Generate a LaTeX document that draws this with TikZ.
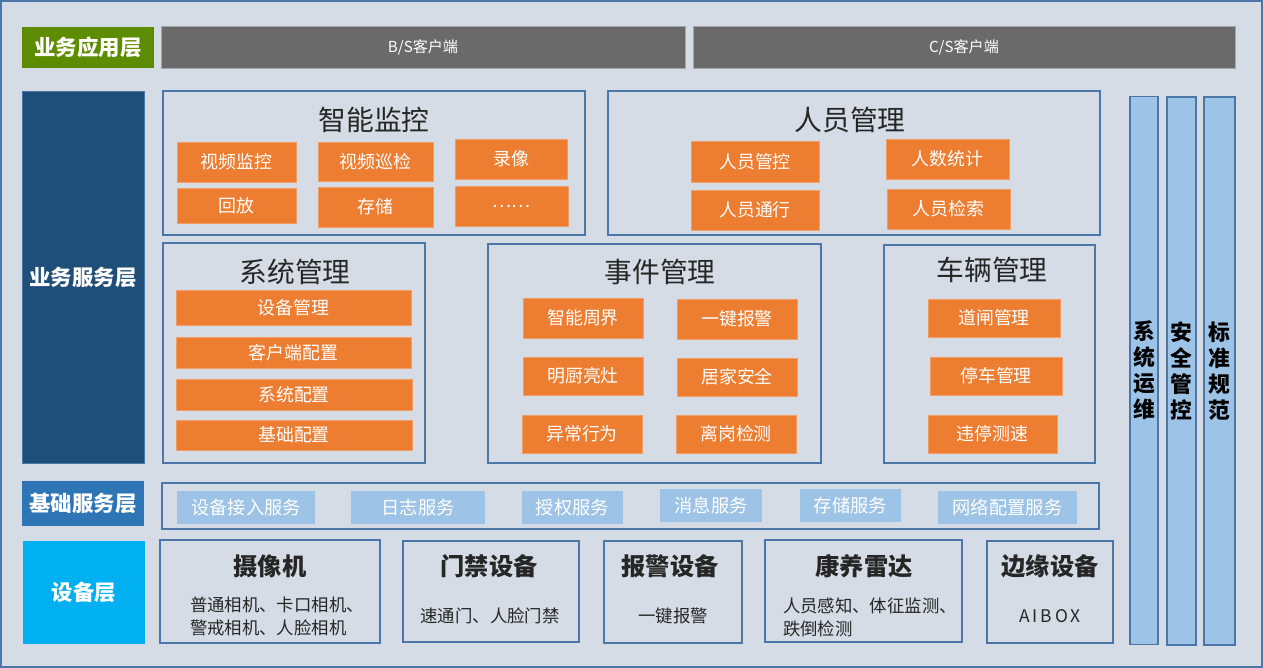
\documentclass[tikz,border=0pt]{standalone}
\usepackage{fontspec}
\setmainfont{Noto Sans CJK SC}
\definecolor{bgcol}{HTML}{D6DCE5}
\definecolor{framecol}{HTML}{4A76A8}
\definecolor{orangecol}{HTML}{ED7D31}
\definecolor{appcol}{HTML}{5E8C00}
\definecolor{svccol}{HTML}{1F4E79}
\definecolor{basecol}{HTML}{2E75B6}
\definecolor{devcol}{HTML}{00B0F0}
\definecolor{lightcol}{HTML}{9DC3E6}
\definecolor{graycol}{HTML}{6A6A6A}
\definecolor{textcol}{HTML}{262626}

\begin{document}
\begin{tikzpicture}
        [x=0.02cm,y=-0.02cm,
        every node/.style={inner sep=0pt,outer sep=0pt},
        sz/.style 2 args={minimum width=#1*0.02cm,minimum height=#2*0.02cm},
        layer/.style={text=white,font=\fontsize{12.2}{14}\selectfont\bfseries},
        client/.style={fill=graycol,draw=gray!70,line width=0.5pt,text=white,
          font=\fontsize{8.6}{10}\selectfont},
        grp/.style={draw=framecol,line width=0.9pt},
        gtitle/.style={text=textcol,font=\fontsize{15.8}{18}\selectfont},
        obox/.style={fill=orangecol,draw=orangecol!75!white,line width=0.4pt,text=white,
          font=\fontsize{10.2}{12}\selectfont},
        sbox/.style={fill=lightcol,text=white,font=\fontsize{10.4}{12}\selectfont},
        vbar/.style={fill=lightcol,draw=framecol,line width=0.8pt,text=black,align=center,
          font=\fontsize{12.4}{14.8}\selectfont\bfseries},
        dtitle/.style={text=textcol,font=\fontsize{13.8}{16}\selectfont\bfseries},
        ddesc/.style={text=textcol,font=\fontsize{9.9}{13}\selectfont}]
        \useasboundingbox (0,0) rectangle (1263,668);
        \draw[fill=bgcol,draw=framecol,line width=1pt] (1,1) rectangle (1262,667);
        %% layers
        \node[layer,fill=appcol,sz={132}{41}] (app) at (88,47.5) {业务应用层};
        \node[layer,fill=svccol,draw=framecol,sz={122}{372}] (svc) at (83,277) {业务服务层};
        \node[layer,fill=basecol,sz={122}{45}] (base) at (83,503.5) {基础服务层};
        \node[layer,fill=devcol,sz={122}{103}] (dev) at (84,592.5) {设备层};
        %% clients
        \node[client,sz={524}{42}] (bs) at (423,47) {B/S客户端};
        \node[client,sz={542}{42}] (cs) at (964,47) {C/S客户端};
        %% service groups
        \node[grp,sz={422}{144}] (jk) at (374,163) {};
        \node[gtitle] (jkt) at (374,120) {智能监控};
        \node[grp,sz={492}{144}] (ry) at (854,163) {};
        \node[gtitle] (ryt) at (850,120) {人员管理};
        \node[grp,sz={262}{220}] (xt) at (294,353) {};
        \node[gtitle] (xtt) at (295,272) {系统管理};
        \node[grp,sz={333}{219}] (sj) at (654.5,353.5) {};
        \node[gtitle] (sjt) at (660,272) {事件管理};
        \node[grp,sz={211}{218}] (cl) at (989.5,354) {};
        \node[gtitle] (clt) at (992,270) {车辆管理};
        %% orange items
        \foreach \nm/\x/\y/\w/\h/\txt in {
          spjk/236.5/162/119/40/视频监控, spxj/375.5/161.5/115/39/视频巡检,
          lx/511/159/112/40/录像, hf/236.5/205.5/119/35/回放,
          cc/375.5/207/115/40/存储, more/511.5/206/113/40/……,
          rygk/755/162/128/41/人员管控, rytx/755/210/128/40/人员通行,
          rstj/947.5/159/123/40/人数统计, ryjs/948.5/209/123/40/人员检索,
          sbgl/293.5/307.5/235/35/设备管理, khpz/293.5/352.5/235/31/客户端配置,
          xtpz/294/394.5/236/31/系统配置, jcpz/294/435/236/30/基础配置,
          znzj/583/318/120/40/智能周界, yjbj/737/319/120/40/一键报警,
          mcld/583/376/120/38/明厨亮灶, jjaq/737/377/120/38/居家安全,
          ycxw/582/434/120/38/异常行为, lgjc/736/434/120/38/离岗检测,
          dzgl/994/318/132/38/道闸管理, tcgl/996/376/132/38/停车管理,
          wtcs/992.5/434/129/38/违停测速}
        {
          \node[obox,sz={\w}{\h}] (\nm) at (\x,\y) {\txt};
        }
        %% vertical bars
        \node[vbar,sz={28}{548}] (yw) at (1144,370.5) {系\\统\\运\\维};
        \node[vbar,sz={29}{548}] (aq) at (1181.5,371) {安\\全\\管\\控};
        \node[vbar,sz={31}{548}] (bz) at (1219.5,371) {标\\准\\规\\范};
        %% base services
        \node[grp,sz={937}{46}] (jc) at (630.5,506) {};
        \foreach \nm/\x/\y/\w/\txt in {
          sbjr/246/507.5/138/设备接入服务, rz/418/507.5/134/日志服务,
          sq/572.5/507.5/101/授权服务, xx/711/505.5/102/消息服务,
          ccfw/850.5/505.5/101/存储服务, wlpz/1007.5/507.5/139/网络配置服务}
        {
          \node[sbox,sz={\w}{33}] (\nm) at (\x,\y) {\txt};
        }
        %% devices
        \node[grp,sz={220}{103}] (cam) at (270,591.5) {};
        \node[dtitle] (camt) at (270,566) {摄像机};
        \node[ddesc,align=left,anchor=west] (camd) at (190,616)
          {普通相机、卡口相机、\\警戒相机、人脸相机};
        \node[grp,sz={176}{101}] (door) at (491,591.5) {};
        \node[dtitle] (doort) at (489,566) {门禁设备};
        \node[ddesc] (doord) at (490,616) {速通门、人脸门禁};
        \node[grp,sz={138}{102}] (alarm) at (673,592) {};
        \node[dtitle] (alarmt) at (670,566) {报警设备};
        \node[ddesc] (alarmd) at (673,616) {一键报警};
        \node[grp,sz={197}{102}] (radar) at (863.5,591) {};
        \node[dtitle] (radart) at (864,566) {康养雷达};
        \node[ddesc,align=left,anchor=west] (radard) at (783,617)
          {人员感知、体征监测、\\跌倒检测};
        \node[grp,sz={126}{102}] (edge) at (1050,592) {};
        \node[dtitle] (edget) at (1050,566) {边缘设备};
        \node[ddesc] (edged) at (1050,616) {A\,I\,B\,O\,X};
        \end{tikzpicture}
\end{document}
